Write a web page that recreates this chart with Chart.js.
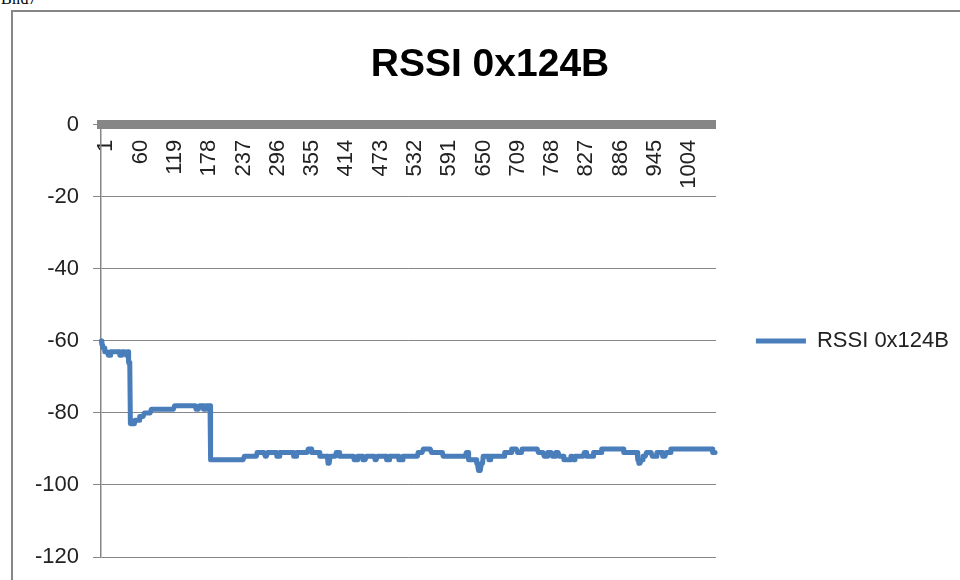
<!DOCTYPE html>
<html>
<head>
<meta charset="utf-8">
<script src="https://cdn.jsdelivr.net/npm/chart.js@4.4.1/dist/chart.umd.min.js"></script>
<style>
  html, body { margin: 0; padding: 0; background: #fff; width: 960px; height: 580px; overflow: hidden; }
  #caption { position: absolute; left: 1px; top: -9px; font: 16px 'Liberation Serif', serif; line-height: 16px; color: #000; }
  #frame { position: absolute; left: 11px; top: 10px; width: 1000px; height: 620px; border-left: 2px solid #868686; border-top: 2px solid #868686; }
  #box { position: absolute; left: 13px; top: 12px; width: 960px; height: 568px; }
</style>
</head>
<body>
<div id="caption">Bild7</div>
<div id="frame"></div>
<div id="box"><canvas id="rssiChart"></canvas></div>
<script>
// Etiquetas del eje X que se ven en la imagen
const tickLabels = ['1', '60', '119', '178', '237', '296', '355', '414', '473', '532',
  '591', '650', '709', '768', '827', '886', '945', '1004'];

// Lecturas RSSI, como tramos [valor, número de muestras]
const rssiRuns = [
  [-60, 1], [-61, 2], [-62, 3], [-63, 6], [-64, 4], [-63, 16], [-64, 3], [-63, 8], [-64, 2], [-63, 2],
  [-66, 2], [-67, 1],
  [-83, 8], [-82, 8], [-81, 8], [-80, 12], [-79, 40], [-78, 37], [-79, 6], [-78, 7], [-79, 4], [-78, 8],
  [-93, 58], [-92, 22], [-91, 14], [-92, 4], [-91, 16], [-92, 5], [-91, 24], [-92, 5], [-91, 20], [-90, 6],
  [-91, 14], [-92, 14], [-94, 4],
  [-92, 10], [-91, 6], [-92, 25], [-93, 6], [-92, 9], [-93, 6], [-92, 15], [-93, 4], [-92, 16], [-93, 5],
  [-92, 16], [-93, 7], [-92, 26], [-91, 9], [-90, 14], [-91, 20],
  [-92, 40], [-91, 4], [-93, 14], [-94, 3], [-96, 5], [-94, 3], [-92, 10], [-93, 3], [-92, 24], [-91, 12],
  [-90, 10], [-91, 8], [-90, 28], [-91, 10], [-92, 6], [-91, 8], [-92, 6], [-91, 6], [-92, 8], [-93, 12],
  [-92, 4], [-93, 3], [-92, 16], [-91, 4], [-92, 12], [-91, 14], [-90, 38], [-91, 24], [-93, 2], [-94, 4],
  [-93, 3], [-92, 6], [-91, 10], [-92, 8], [-91, 10], [-92, 6], [-91, 8], [-90, 72], [-91, 6]
];

const rssiValues = [];
rssiRuns.forEach(function (run) {
  for (let k = 0; k < run[1]; k++) rssiValues.push(run[0]);
});
const sampleLabels = rssiValues.map(function (v, k) { return String(k + 1); });

const axisGray = '#868686';
const textFont = { family: "'Liberation Sans', Arial, sans-serif", size: 22 };

new Chart(document.getElementById('rssiChart'), {
  type: 'line',
  data: {
    labels: sampleLabels,
    datasets: [{
      label: 'RSSI 0x124B',
      data: rssiValues,
      borderColor: '#4a7ebb',
      backgroundColor: '#4a7ebb',
      borderWidth: 5,
      pointRadius: 0,
      tension: 0,
      borderJoinStyle: 'round',
      borderCapStyle: 'round'
    }]
  },
  options: {
    responsive: true,
    maintainAspectRatio: false,
    animation: false,
    devicePixelRatio: 1,
    layout: { padding: { left: 8, right: 14, top: 0, bottom: 23 } },
    plugins: {
      title: {
        display: true,
        text: 'RSSI 0x124B',
        color: '#000',
        font: { family: "'Liberation Sans', Arial, sans-serif", size: 39, weight: 'bold', lineHeight: 1.2 },
        padding: { top: 30, bottom: 36 }
      },
      legend: {
        position: 'right',
        fullSize: false,
        maxWidth: 320,
        labels: {
          usePointStyle: true,
          pointStyle: 'line',
          pointStyleWidth: 50,
          padding: 40,
          color: '#222',
          font: textFont
        }
      },
      tooltip: { enabled: false }
    },
    scales: {
      x: {
        type: 'category',
        offset: true,
        position: { y: 0 },
        grid: { display: false, drawTicks: false },
        border: { display: true, color: axisGray, width: 9 },
        ticks: {
          autoSkip: false,
          minRotation: 90,
          maxRotation: 90,
          padding: 15,
          labelOffset: 5,
          color: '#222',
          font: textFont,
          callback: function (value) {
            const lab = this.getLabelForValue(value);
            return tickLabels.includes(lab) ? lab : null;
          }
        }
      },
      y: {
        min: -120,
        max: 0,
        ticks: {
          stepSize: 20,
          padding: 14,
          color: '#222',
          font: { family: textFont.family, size: 22, lineHeight: 0.6 }
        },
        grid: { color: axisGray, lineWidth: 1, tickLength: 8, drawTicks: true },
        border: { display: true, color: axisGray, width: 1.5 }
      }
    }
  }
});
</script>
</body>
</html>
